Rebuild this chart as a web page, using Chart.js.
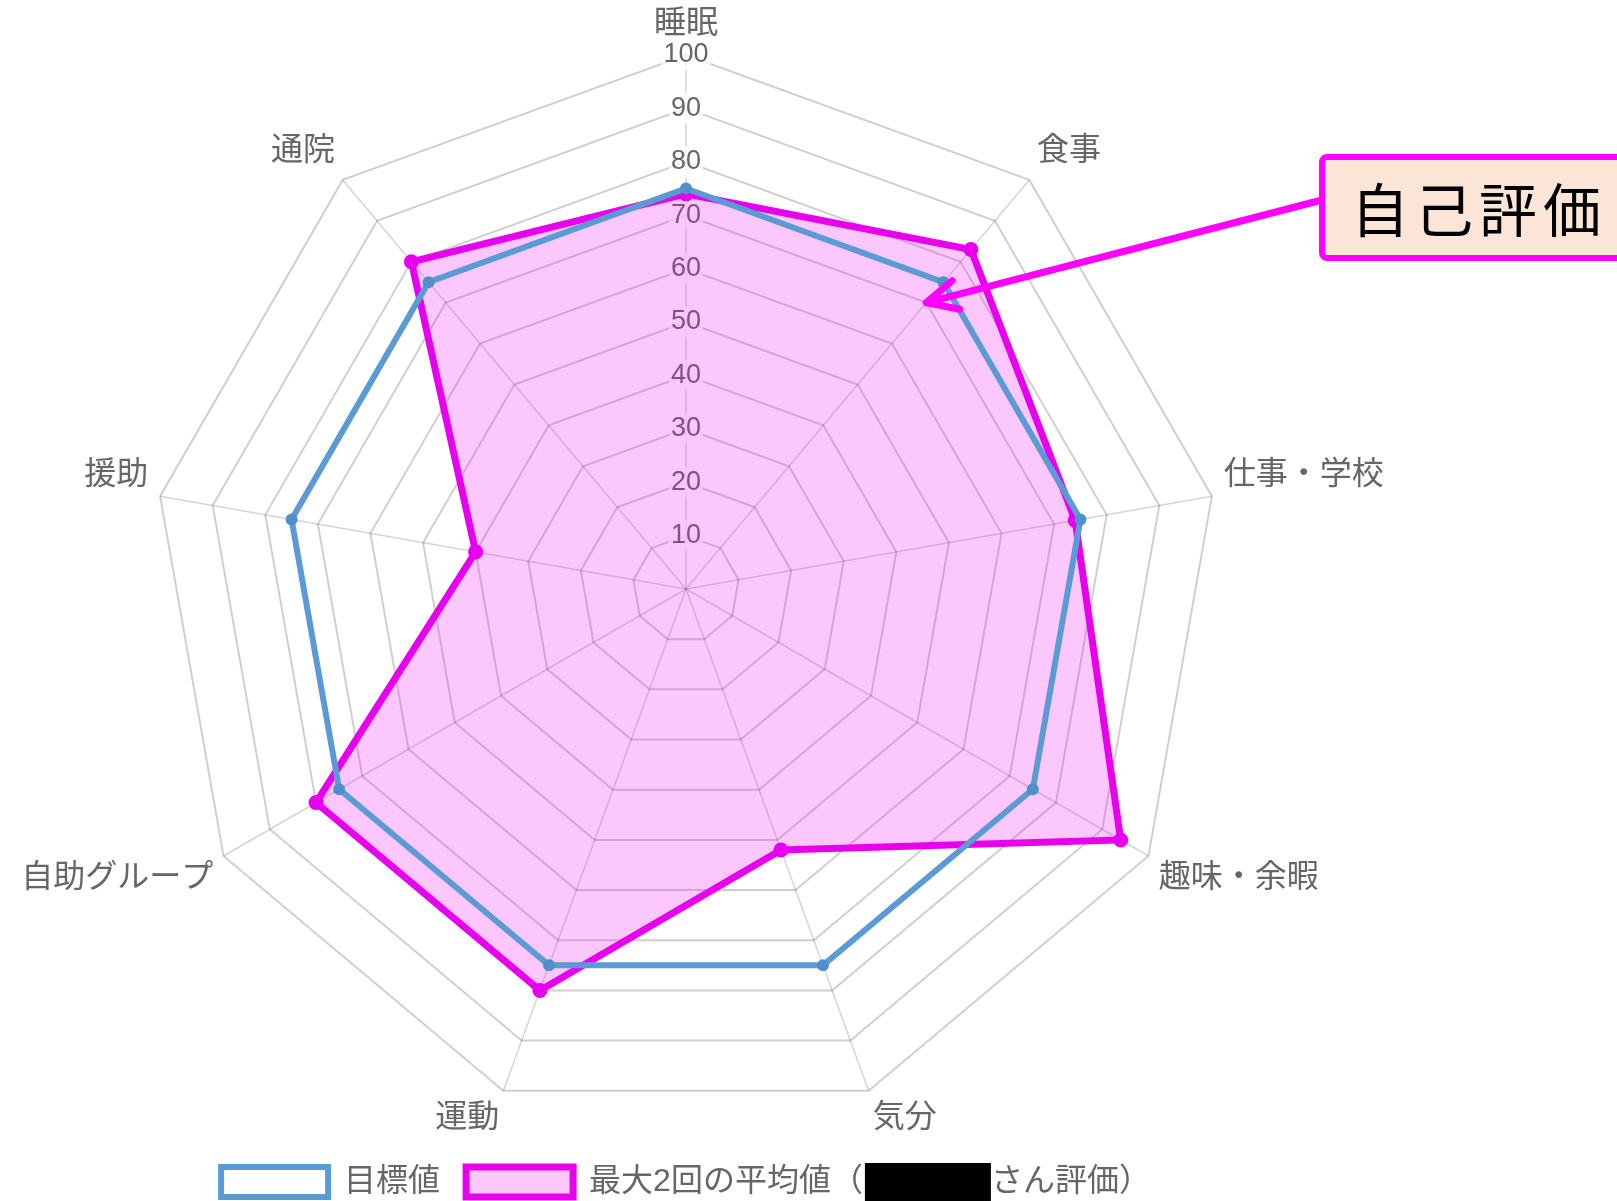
<!DOCTYPE html>
<html lang="ja">
<head>
<meta charset="utf-8">
<title>自己評価レーダー</title>
<script src="https://cdn.jsdelivr.net/npm/chart.js@4.4.1/dist/chart.umd.min.js"></script>
<style>
  html, body { margin: 0; padding: 0; background: #fff; }
  #wrap { position: relative; width: 1617px; height: 1201px; }
</style>
</head>
<body>
<div id="wrap"><canvas id="graficoRadar"></canvas></div>
<script>
// 評価項目と値
const labels = ['睡眠', '食事', '仕事・学校', '趣味・余暇', '気分', '運動', '自助グループ', '援助', '通院'];
const mokuhyo = [75, 75, 75, 75, 75, 75, 75, 75, 75];
const heikin = [74, 83, 74, 94, 52, 80, 80, 40, 80];
const tickValues = [10, 20, 30, 40, 50, 60, 70, 80, 90, 100];
const seriesNames = ['目標値', '最大2回の平均値（　　　　さん評価）'];
const maskedPart = '　　　　'; // 名前は黒塗り
const calloutText = '自己評価';
const calloutValue = 70; // 矢印の先（食事の軸上）

const FONT = '"Liberation Sans", Arial, "Noto Sans CJK JP", sans-serif';
const LABEL_SIZE = 32;
const LABEL_PAD = 12;

// 軸ラベル（項目名）を外周に描く
const axisLabels = {
    id: 'axisLabels',
    afterDraw(chart) {
        const scale = chart.scales.r;
        const ctx = chart.ctx;
        const h = LABEL_SIZE * 1.2;
        ctx.save();
        ctx.font = LABEL_SIZE + 'px ' + FONT;
        ctx.fillStyle = '#666';
        ctx.textBaseline = 'middle';
        chart.data.labels.forEach((label, i) => {
            const p = scale.getPointPosition(i, scale.drawingArea + LABEL_PAD);
            const deg = Math.round(scale.getIndexAngle(i) * 180 / Math.PI) % 360;
            let align = 'center';
            if (deg > 0 && deg < 180) align = 'left';
            else if (deg > 180) align = 'right';
            let top = p.y;
            if (deg === 90 || deg === 270) top -= h / 2;
            else if (deg > 270 || deg < 90) top -= h;
            else top -= 3; // 下側のラベルは少し詰める
            ctx.textAlign = align;
            ctx.fillText(label, p.x, top + h / 2);
        });
        ctx.restore();
    }
};

// 凡例の名前を黒塗り + 「自己評価」の吹き出し
const overlays = {
    id: 'overlays',
    afterDraw(chart) {
        const ctx = chart.ctx;
        ctx.save();

        // 黒塗り
        const hb = chart.legend.legendHitBoxes[1];
        const lf = chart.options.plugins.legend.labels;
        ctx.font = lf.font.size + 'px ' + FONT;
        const prefix = seriesNames[1].split(maskedPart)[0];
        const textX = hb.left + lf.boxWidth + lf.font.size / 2;
        const mx = textX + ctx.measureText(prefix).width + 2;
        const mw = ctx.measureText(maskedPart).width - 2;
        const my = hb.top + hb.height / 2;
        ctx.fillStyle = '#000';
        ctx.fillRect(mx, my - 19, mw, 38);

        // 吹き出し
        const bx = 1322, by = 157, bw = 330, bh = 101;
        ctx.lineWidth = 6;
        ctx.strokeStyle = '#ff00ff';
        ctx.fillStyle = '#fbe5d6';
        ctx.beginPath();
        ctx.roundRect(bx, by, bw, bh, 5);
        ctx.fill();
        ctx.stroke();

        ctx.fillStyle = '#000';
        ctx.font = '58px "Noto Sans CJK JP", sans-serif';
        ctx.letterSpacing = '6px';
        ctx.textBaseline = 'middle';
        ctx.fillText(calloutText, bx + 29, by + bh / 2 + 2);
        ctx.letterSpacing = '0px';

        // 矢印
        const tip = chart.scales.r.getPointPositionForValue(1, calloutValue);
        const sx = bx, sy = 200;
        const ang = Math.atan2(sy - tip.y, sx - tip.x);
        ctx.lineWidth = 7;
        ctx.lineCap = 'round';
        ctx.lineJoin = 'round';
        ctx.beginPath();
        ctx.moveTo(sx, sy);
        ctx.lineTo(tip.x, tip.y);
        const head = 34, spread = 0.45;
        ctx.moveTo(tip.x + head * Math.cos(ang - spread), tip.y + head * Math.sin(ang - spread));
        ctx.lineTo(tip.x, tip.y);
        ctx.lineTo(tip.x + head * Math.cos(ang + spread), tip.y + head * Math.sin(ang + spread));
        ctx.stroke();

        ctx.restore();
    }
};

const data = {
    labels: labels,
    datasets: [{
        label: seriesNames[0],
        data: mokuhyo,
        borderColor: '#5b9bd5',
        backgroundColor: 'rgba(255, 255, 255, 0)',
        borderWidth: 6,
        pointRadius: 3,
        pointBackgroundColor: '#4f8fca',
        pointBorderColor: '#4f8fca',
        fill: false
    }, {
        label: seriesNames[1],
        data: heikin,
        borderColor: 'rgb(232, 0, 238)',
        backgroundColor: 'rgba(242, 0, 242, 0.22)',
        borderWidth: 7,
        pointRadius: 6,
        pointBorderWidth: 3,
        pointBackgroundColor: 'rgb(232, 0, 238)',
        pointBorderColor: 'rgb(232, 0, 238)',
        fill: true
    }]
};

const config = {
    type: 'radar',
    data: data,
    plugins: [axisLabels, overlays],
    options: {
        responsive: true,
        maintainAspectRatio: false,
        animation: false,
        layout: {
            padding: { left: 0, right: 245, top: 39.5, bottom: -7 }
        },
        elements: {
            line: { tension: 0 }
        },
        plugins: {
            legend: {
                position: 'bottom',
                labels: {
                    boxWidth: 107,
                    boxHeight: 30,
                    padding: 26,
                    color: '#666',
                    font: { size: 32, family: FONT }
                }
            },
            tooltip: { enabled: false }
        },
        scales: {
            r: {
                min: 0,
                max: 100,
                afterBuildTicks: function (scale) {
                    scale.ticks = [0].concat(tickValues).map(v => ({ value: v }));
                },
                ticks: {
                    color: '#666',
                    font: { size: 27, family: FONT },
                    backdropColor: 'rgba(255, 255, 255, 0.75)',
                    callback: v => v === 0 ? '' : v
                },
                grid: {
                    color: 'rgba(0, 0, 0, 0.19)',
                    lineWidth: 2
                },
                angleLines: {
                    color: 'rgba(0, 0, 0, 0.17)',
                    lineWidth: 1.5
                },
                pointLabels: {
                    display: false
                }
            }
        }
    }
};

const ctx = document.getElementById('graficoRadar').getContext('2d');
const myChart = new Chart(ctx, config);
</script>
</body>
</html>
